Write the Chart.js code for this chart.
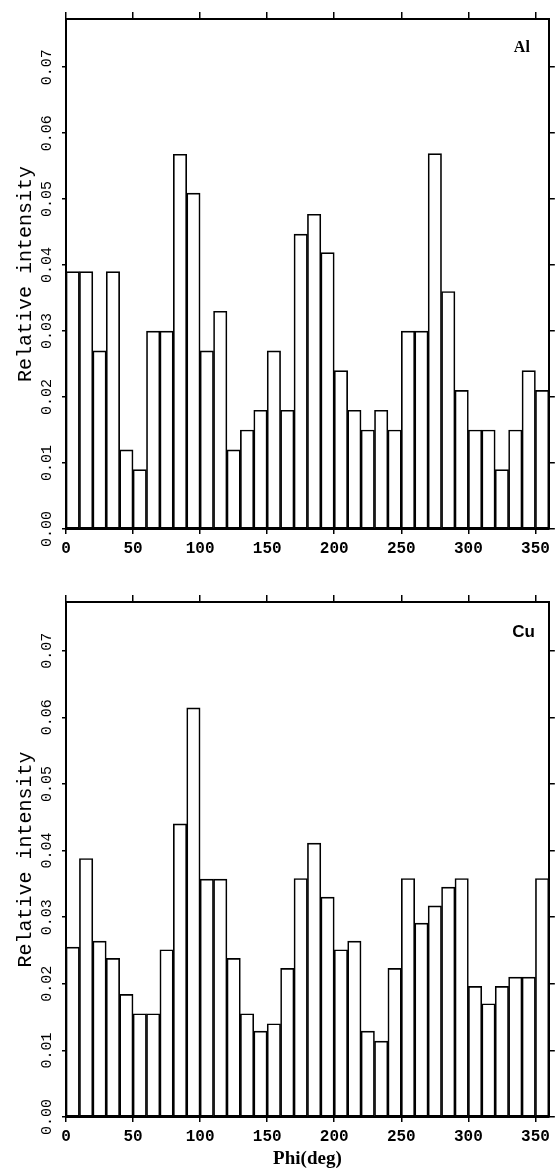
<!DOCTYPE html>
<html>
<head>
<meta charset="utf-8">
<script src="https://cdn.jsdelivr.net/npm/chart.js@4"></script>
<style>
  html, body { margin: 0; padding: 0; background: #fff; }
  .panel { position: absolute; left: 0; }
  #p1 { top: 0; }
  #p2 { top: 560px; }
</style>
</head>
<body>
<div class="panel" id="p1"><canvas id="c1" width="555" height="560"></canvas></div>
<div class="panel" id="p2"><canvas id="c2" width="555" height="612"></canvas></div>
<script>
// ---- data ----
const phiBins = ['0-10','10-20','20-30','30-40','40-50','50-60','60-70','70-80','80-90','90-100',
  '100-110','110-120','120-130','130-140','140-150','150-160','160-170','170-180','180-190','190-200',
  '200-210','210-220','220-230','230-240','240-250','250-260','260-270','270-280','280-290','290-300',
  '300-310','310-320','320-330','330-340','340-350','350-360'];
const alValues = [0.039,0.039,0.027,0.039,0.012,0.009,0.030,0.030,0.0568,0.0509,
  0.027,0.033,0.012,0.015,0.018,0.027,0.018,0.0447,0.0477,0.0419,
  0.024,0.018,0.015,0.018,0.015,0.030,0.030,0.0569,0.036,0.021,
  0.015,0.015,0.009,0.015,0.024,0.021];
const cuValues = [0.0255,0.0388,0.0264,0.0238,0.0184,0.0155,0.0155,0.0251,0.0440,0.0614,
  0.0357,0.0357,0.0238,0.0155,0.0129,0.0140,0.0223,0.0358,0.0411,0.0330,
  0.0251,0.0264,0.0129,0.0114,0.0223,0.0358,0.0291,0.0317,0.0345,0.0358,
  0.0196,0.0170,0.0196,0.0210,0.0210,0.0358];
const xTickValues = [0,50,100,150,200,250,300,350];
const yTickValues = [0.00,0.01,0.02,0.03,0.04,0.05,0.06,0.07];
const yTitle = 'Relative intensity';
const xTitle = 'Phi(deg)';

Chart.defaults.animation = false;
Chart.defaults.color = '#000';

function setTicks(values) {
  return function(scale) { scale.ticks = values.map(v => ({value: v})); };
}

const panelLabel = {
  id: 'panelLabel',
  afterDraw(chart, args, opts) {
    const {ctx, chartArea} = chart;
    ctx.save();
    ctx.font = opts.font;
    ctx.fillStyle = '#000';
    ctx.textAlign = 'right';
    ctx.textBaseline = 'middle';
    ctx.fillText(opts.text, chartArea.right - opts.dx, chartArea.top + opts.dy);
    ctx.restore();
  }
};

function makeChart(id, values, cfg) {
  const axisColor = '#000';
  return new Chart(document.getElementById(id), {
    type: 'bar',
    data: {
      labels: phiBins,
      datasets: [{
        data: values,
        backgroundColor: 'rgba(255,255,255,0)',
        borderColor: '#000',
        borderWidth: 1,
        borderSkipped: false,
        categoryPercentage: 1.0,
        barPercentage: 1.0,
        xAxisID: 'x',
        yAxisID: 'y'
      }]
    },
    options: {
      responsive: false,
      devicePixelRatio: 1,
      layout: { padding: 0 },
      plugins: {
        legend: { display: false },
        tooltip: { enabled: false },
        panelLabel: cfg.label
      },
      scales: {
        x: { type: 'category', display: false, grid: { display: false } },
        xb: {
          type: 'linear', position: 'bottom', min: 0, max: 360, offset: false,
          afterBuildTicks: setTicks(xTickValues),
          afterFit: s => { s.height = cfg.bottomH; },
          ticks: { font: { family: '"Liberation Mono", monospace', size: 16, weight: 'bold' },
                   padding: 5, maxRotation: 0, autoSkip: false, color: '#000' },
          grid: { offset: false, drawOnChartArea: false, drawTicks: true, tickLength: 5, color: axisColor, lineWidth: 1.5 },
          border: { display: true, color: axisColor, width: 2 },
          title: cfg.xTitle ? {
            display: true, text: xTitle,
            font: { family: '"Liberation Serif", serif', size: 19, weight: 'bold' },
            padding: { top: 0, bottom: 2 }, color: '#000'
          } : { display: false }
        },
        xt: {
          type: 'linear', position: 'top', min: 0, max: 360, offset: false,
          afterBuildTicks: setTicks(xTickValues),
          afterFit: s => { s.height = cfg.topH; },
          ticks: { display: false },
          grid: { offset: false, drawOnChartArea: false, drawTicks: true, tickLength: 7, color: axisColor, lineWidth: 1.5 },
          border: { display: true, color: axisColor, width: 2 }
        },
        y: {
          type: 'linear', position: 'left', min: 0, max: 0.0773,
          afterBuildTicks: setTicks(yTickValues),
          afterFit: s => { s.width = 66; },
          ticks: {
            font: { family: '"Liberation Mono", monospace', size: 15 },
            minRotation: 90, maxRotation: 90, crossAlign: 'center', padding: -3,
            autoSkip: false, color: '#000',
            callback: v => Number(v).toFixed(2)
          },
          grid: { drawOnChartArea: false, drawTicks: true, tickLength: 4, color: axisColor, lineWidth: 1.5 },
          border: { display: true, color: axisColor, width: 2 },
          title: {
            display: true, text: yTitle,
            font: { family: '"Liberation Mono", monospace', size: 20 },
            padding: { top: 14, bottom: 0 }, color: '#000'
          }
        },
        yr: {
          type: 'linear', position: 'right', min: 0, max: 0.0773,
          afterBuildTicks: setTicks(yTickValues),
          afterFit: s => { s.width = 6; },
          ticks: { display: false },
          grid: { drawOnChartArea: false, drawTicks: true, tickLength: 6, color: axisColor, lineWidth: 1.5 },
          border: { display: true, color: axisColor, width: 2 }
        }
      }
    },
    plugins: [panelLabel]
  });
}

makeChart('c1', alValues, {
  topH: 19, bottomH: 31, xTitle: false,
  label: { text: 'Al', font: 'bold 16px "Liberation Serif", serif', dx: 19, dy: 29 }
});
makeChart('c2', cuValues, {
  topH: 42, bottomH: 55, xTitle: true,
  label: { text: 'Cu', font: 'bold 17px "Liberation Sans", sans-serif', dx: 14, dy: 30 }
});
</script>
</body>
</html>
